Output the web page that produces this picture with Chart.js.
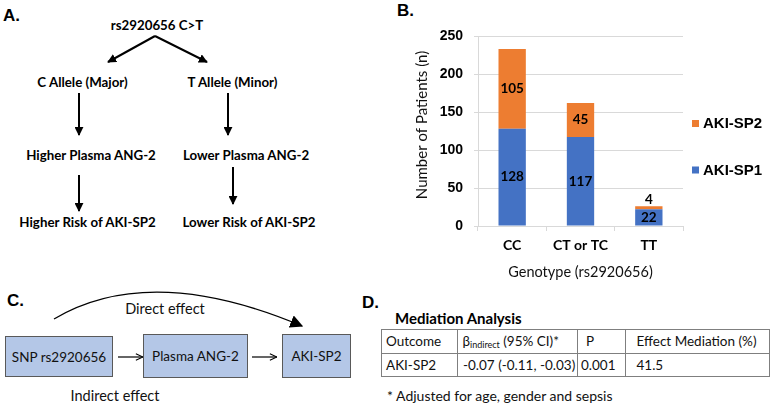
<!DOCTYPE html>
<html>
<head>
<meta charset="utf-8">
<script src="https://cdn.jsdelivr.net/npm/chart.js@4/dist/chart.umd.min.js"></script>
<style>
  html,body{margin:0;padding:0;background:#fff;}
  #wrap{position:relative;width:778px;height:403px;overflow:hidden;background:#fff;}
  svg{position:absolute;left:0;top:0;}
  #chartBox{position:absolute;left:390px;top:0;width:388px;height:290px;}
  .lb{font-family:"Liberation Sans",Arial,sans-serif;font-weight:bold;}
  .la{font-family:Lato,"Open Sans",sans-serif;}
</style>
</head>
<body>
<div id="wrap">
<svg width="778" height="403" viewBox="0 0 778 403">
  <defs>
    <marker id="ahA" viewBox="0 0 10 10" refX="9" refY="5" markerWidth="4.5" markerHeight="4.5" orient="auto" markerUnits="strokeWidth">
      <path d="M0,0 L10,5 L0,10 z" fill="#000"/>
    </marker>
    <marker id="ahC" viewBox="0 0 10 10" refX="9.5" refY="5" markerWidth="7" markerHeight="7" orient="auto" markerUnits="strokeWidth">
      <path d="M1,1 L9.5,5 L1,9" fill="none" stroke="#000" stroke-width="1.3"/>
    </marker>
    <marker id="ahBig" viewBox="0 0 10 10" refX="9" refY="5" markerWidth="13" markerHeight="13" orient="auto" markerUnits="userSpaceOnUse">
      <path d="M0,0 L10,5 L0,10 z" fill="#000"/>
    </marker>
  </defs>

  <!-- Panel labels -->
  <text class="lb" x="3" y="15" font-size="17" dominant-baseline="central">A.</text>
  <text class="lb" x="397" y="10" font-size="17" dominant-baseline="central">B.</text>
  <text class="lb" x="7" y="300" font-size="17" dominant-baseline="central">C.</text>
  <text class="lb" x="362" y="302" font-size="17" dominant-baseline="central">D.</text>

  <!-- Panel A -->
  <g class="la" font-weight="bold" font-size="13.3" fill="#000" text-anchor="middle" dominant-baseline="central">
    <text x="157" y="25">rs2920656 C&gt;T</text>
    <text x="82.5" y="82">C Allele (Major)</text>
    <text x="232.5" y="82">T Allele (Minor)</text>
    <text x="91" y="155">Higher Plasma ANG-2</text>
    <text x="246" y="155">Lower Plasma ANG-2</text>
    <text x="87.5" y="222">Higher Risk of AKI-SP2</text>
    <text x="249" y="222">Lower Risk of AKI-SP2</text>
  </g>
  <g stroke="#000" stroke-width="2" fill="none">
    <line x1="155" y1="36" x2="108" y2="62" marker-end="url(#ahA)"/>
    <line x1="155" y1="36" x2="207" y2="62" marker-end="url(#ahA)"/>
    <line x1="79" y1="93" x2="79" y2="135" marker-end="url(#ahA)"/>
    <line x1="228" y1="93" x2="228" y2="135" marker-end="url(#ahA)"/>
    <line x1="79" y1="175" x2="79" y2="211" marker-end="url(#ahA)"/>
    <line x1="233" y1="167" x2="233" y2="204" marker-end="url(#ahA)"/>
  </g>

  <!-- Panel C -->
  <path d="M54,319 Q150,262 302,326" fill="none" stroke="#000" stroke-width="1.3" marker-end="url(#ahBig)"/>
  <text class="la" x="165" y="308" font-size="14.5" text-anchor="middle" dominant-baseline="central" fill="#111">Direct effect</text>
  <g fill="#B4C7E7" stroke="#595959" stroke-width="1">
    <rect x="5.5" y="336.5" width="107" height="40"/>
    <rect x="143.5" y="334.5" width="104" height="43"/>
    <rect x="282.5" y="334.5" width="68" height="43"/>
  </g>
  <g class="la" font-size="13.5" text-anchor="middle" dominant-baseline="central" fill="#111">
    <text x="59" y="357">SNP rs2920656</text>
    <text x="195.5" y="356">Plasma ANG-2</text>
    <text x="316.5" y="356">AKI-SP2</text>
  </g>
  <g stroke="#000" stroke-width="1.2">
    <line x1="118" y1="357" x2="143" y2="357" marker-end="url(#ahC)"/>
    <line x1="252" y1="357" x2="277" y2="357" marker-end="url(#ahC)"/>
  </g>
  <text class="la" x="115" y="395" font-size="14.5" text-anchor="middle" dominant-baseline="central" fill="#111">Indirect effect</text>

  <!-- Panel D -->
  <text class="la" x="395" y="318" font-size="15" font-weight="bold" dominant-baseline="central" fill="#000">Mediation Analysis</text>
  <g stroke="#7f7f7f" stroke-width="1" fill="none">
    <rect x="381.5" y="329.5" width="388" height="47"/>
    <line x1="381.5" y1="353.5" x2="769.5" y2="353.5"/>
    <line x1="457.5" y1="329.5" x2="457.5" y2="376.5"/>
    <line x1="577.5" y1="329.5" x2="577.5" y2="376.5"/>
    <line x1="625.5" y1="329.5" x2="625.5" y2="376.5"/>
  </g>
  <g class="la" font-size="13.5" dominant-baseline="central" fill="#111">
    <text x="386" y="341">Outcome</text>
    <text x="462.5" y="341">β<tspan font-size="9" dy="3">indirect</tspan><tspan dy="-3"> (95% CI)*</tspan></text>
    <text x="586" y="341">P</text>
    <text x="636.5" y="341">Effect Mediation (%)</text>
    <text x="386" y="365">AKI-SP2</text>
    <text x="463" y="365">-0.07 (-0.11, -0.03)</text>
    <text x="581" y="365">0.001</text>
    <text x="636.5" y="365">41.5</text>
    <text x="387" y="395" font-size="14">* Adjusted for age, gender and sepsis</text>
  </g>
</svg>
<div id="chartBox"><canvas id="c" width="388" height="290"></canvas></div>
</div>

<script>
// ---- Data (panel B) ----
const categories = ["CC", "CT or TC", "TT"];
const seriesNames = ["AKI-SP1", "AKI-SP2"];
const aki_sp1 = [128, 117, 22];
const aki_sp2 = [105, 45, 4];
const yTicks = [0, 50, 100, 150, 200, 250];
const xTitle = "Genotype (rs2920656)";
const yTitle = "Number of Patients (n)";

const BLUE = "#4472C4", ORANGE = "#ED7D31";

const valueLabels = {
  id: "valueLabels",
  afterDatasetsDraw(chart) {
    const ctx = chart.ctx;
    ctx.save();
    ctx.font = "bold 13.5px Lato, sans-serif";
    ctx.fillStyle = "#000";
    ctx.textAlign = "center";
    ctx.textBaseline = "middle";
    chart.data.datasets.forEach((ds, i) => {
      const meta = chart.getDatasetMeta(i);
      meta.data.forEach((bar, j) => {
        const h = bar.base - bar.y;
        const y = h >= 14 ? (bar.y + bar.base) / 2 : bar.y - 7;
        ctx.fillText(String(ds.data[j]), bar.x, y);
      });
    });
    ctx.restore();
  }
};

const sideLegend = {
  id: "sideLegend",
  afterDraw(chart) {
    const ctx = chart.ctx;
    const x0 = chart.chartArea.right + 9;
    const items = [
      {label: seriesNames[1], color: ORANGE, y: 123.5},
      {label: seriesNames[0], color: BLUE, y: 170}
    ];
    ctx.save();
    ctx.font = "bold 15px 'Liberation Sans', Arial, sans-serif";
    ctx.textBaseline = "middle";
    ctx.textAlign = "left";
    items.forEach(it => {
      ctx.fillStyle = it.color;
      ctx.fillRect(x0, it.y - 3.5, 7, 7);
      ctx.fillStyle = "#000";
      ctx.fillText(it.label, x0 + 11, it.y + 0.5);
    });
    ctx.restore();
  }
};

// y-axis title drawn next to the y scale
const yAxisTitle = {
  id: "yAxisTitle",
  afterDraw(chart) {
    const ctx = chart.ctx;
    ctx.save();
    ctx.translate(32, 125);
    ctx.rotate(-Math.PI / 2);
    ctx.font = "15px Lato, sans-serif";
    ctx.fillStyle = "#111";
    ctx.textAlign = "center";
    ctx.textBaseline = "middle";
    ctx.fillText(yTitle, 0, 0);
    ctx.restore();
  }
};

new Chart(document.getElementById("c"), {
  type: "bar",
  data: {
    labels: categories,
    datasets: [
      {label: seriesNames[0], data: aki_sp1, backgroundColor: BLUE, borderWidth: 0},
      {label: seriesNames[1], data: aki_sp2, backgroundColor: ORANGE, borderWidth: 0}
    ]
  },
  options: {
    responsive: false,
    animation: false,
    devicePixelRatio: 1,
    layout: {padding: {left: 0, right: 95, top: 36, bottom: 4}},
    plugins: {legend: {display: false}, tooltip: {enabled: false}},
    datasets: {bar: {categoryPercentage: 1, barPercentage: 0.4}},
    scales: {
      x: {
        stacked: true,
        afterFit: s => { s.height = 60; },
        grid: {offset: true, drawOnChartArea: false, color: "#D9D9D9", tickLength: 5},
        border: {color: "#D9D9D9"},
        ticks: {color: "#000", padding: 6, font: {family: "Lato", weight: "bold", size: 14}},
        title: {display: true, text: xTitle, color: "#111", padding: {top: 0, bottom: 5},
                font: {family: "Lato", size: 14.5}}
      },
      y: {
        stacked: true,
        min: 0, max: 250,
        afterFit: s => { s.width = 88; },
        afterBuildTicks: s => { s.ticks = yTicks.map(v => ({value: v})); },
        grid: {color: "#D9D9D9", tickLength: 4},
        border: {color: "#D9D9D9"},
        ticks: {color: "#000", padding: 11, font: {family: "Liberation Sans", weight: "bold", size: 14}},
        title: {display: false}
      }
    }
  },
  plugins: [valueLabels, sideLegend, yAxisTitle]
});
</script>
</body>
</html>
